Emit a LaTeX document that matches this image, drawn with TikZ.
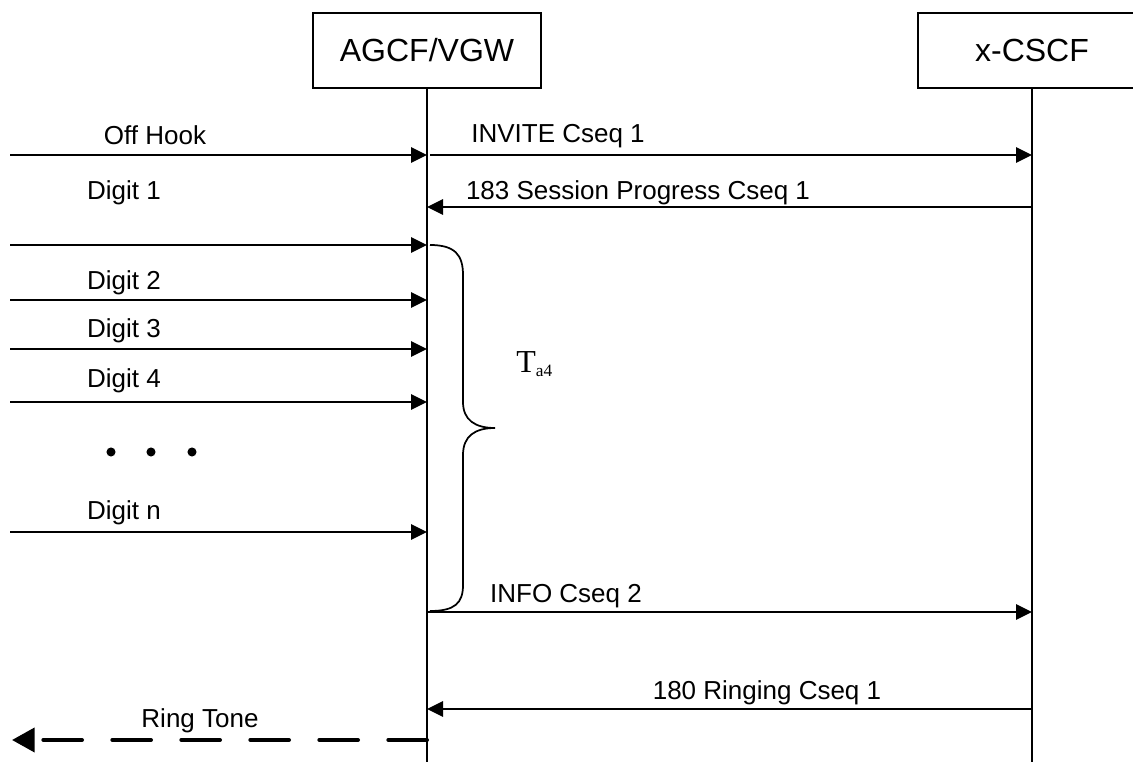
\documentclass[tikz,border=0pt]{standalone}
\usepackage{fontspec}
\setmainfont{Liberation Sans}
\newfontfamily\timesfont{Liberation Serif}
\usetikzlibrary{arrows.meta}
\tikzset{
  entity/.style={draw, line width=1.3pt, minimum width=171pt, minimum height=56pt, inner sep=0pt, font=\fontsize{24}{28}\selectfont},
  life/.style={line width=1.3pt},
  msg/.style={line width=1.3pt, -{Triangle[length=12pt,width=11.5pt]}},
  msglabel/.style={anchor=base, inner sep=0pt, font=\fontsize{19.5}{23}\selectfont},
  tone/.style={line width=3pt, line cap=round, dash pattern=on 29pt off 22.75pt, -{Triangle[length=17pt,width=18pt]}}
}
\begin{document}
\begin{tikzpicture}[x=0.75pt,y=-0.75pt]
        \useasboundingbox (0,0) rectangle (1133,762);
        % entities and lifelines
        \node[entity] (agcf) at (427,50.5) {AGCF/VGW};
        \node[entity] (cscf) at (1032,50.5) {x-CSCF};
        \coordinate (agcfend) at (427,762);
        \coordinate (cscfend) at (1032,762);
        \draw[life] (agcf.south) -- (agcfend);
        \draw[life] (cscf.south) -- (cscfend);
        % line side
        \coordinate (offhook) at (10,155);
        \coordinate (digitone) at (10,245);
        \coordinate (digittwo) at (10,300);
        \coordinate (digitthree) at (10,349);
        \coordinate (digitfour) at (10,402);
        \coordinate (digitn) at (10,532);
        \draw[msg] (offhook) -- (offhook -| agcf);
        \draw[msg] (digitone) -- (digitone -| agcf);
        \draw[msg] (digittwo) -- (digittwo -| agcf);
        \draw[msg] (digitthree) -- (digitthree -| agcf);
        \draw[msg] (digitfour) -- (digitfour -| agcf);
        \draw[msg] (digitn) -- (digitn -| agcf);
        \node[msglabel] (offhooklbl) at (155,145) {Off Hook};
        \node[msglabel] (digitonelbl) at (124,200) {Digit 1};
        \node[msglabel] (digittwolbl) at (124,290) {Digit 2};
        \node[msglabel] (digitthreelbl) at (124,338) {Digit 3};
        \node[msglabel] (digitfourlbl) at (124,388) {Digit 4};
        \node[msglabel] (digitnlbl) at (124,520) {Digit n};
        \fill (111,452) circle[radius=3.4pt];
        \fill (151,452) circle[radius=3.4pt];
        \fill (192,452) circle[radius=3.4pt];
        % sip side
        \coordinate (invite) at (430,155);
        \coordinate (progress) at (1032,207);
        \coordinate (info) at (427,612);
        \coordinate (ringing) at (1032,709);
        \draw[msg] (invite) -- (invite -| cscf);
        \draw[msg] (progress) -- (progress -| agcf);
        \draw[msg] (info) -- (info -| cscf);
        \draw[msg] (ringing) -- (ringing -| agcf);
        \node[msglabel] (invitelbl) at (558,143) {INVITE Cseq 1};
        \node[msglabel] (progresslbl) at (638,200) {183 Session Progress Cseq 1};
        \node[msglabel] (infolbl) at (566,603) {INFO Cseq 2};
        \node[msglabel] (ringinglbl) at (767,700) {180 Ringing Cseq 1};
        % ring tone
        \coordinate (ringtone) at (12,740);
        \draw[tone] (ringtone -| agcf) -- (ringtone);
        \node[msglabel] (ringtonelbl) at (200,728) {Ring Tone};
        % timer
        \draw[line width=1.3pt] (430,245) .. controls (455,245) and (463,255) .. (463,275) -- (463,402)
          .. controls (463,420) and (475,428) .. (495,428) .. controls (475,428) and (463,436) .. (463,455)
          -- (463,585) .. controls (463,603) and (455,611) .. (430,611);
        \node[anchor=base west, inner sep=0pt, font=\timesfont\fontsize{24}{28}\selectfont] (timerlbl) at (516,373) {T\raisebox{-2.5pt}{\fontsize{13}{15}\selectfont a4}};
      \end{tikzpicture}
\end{document}
